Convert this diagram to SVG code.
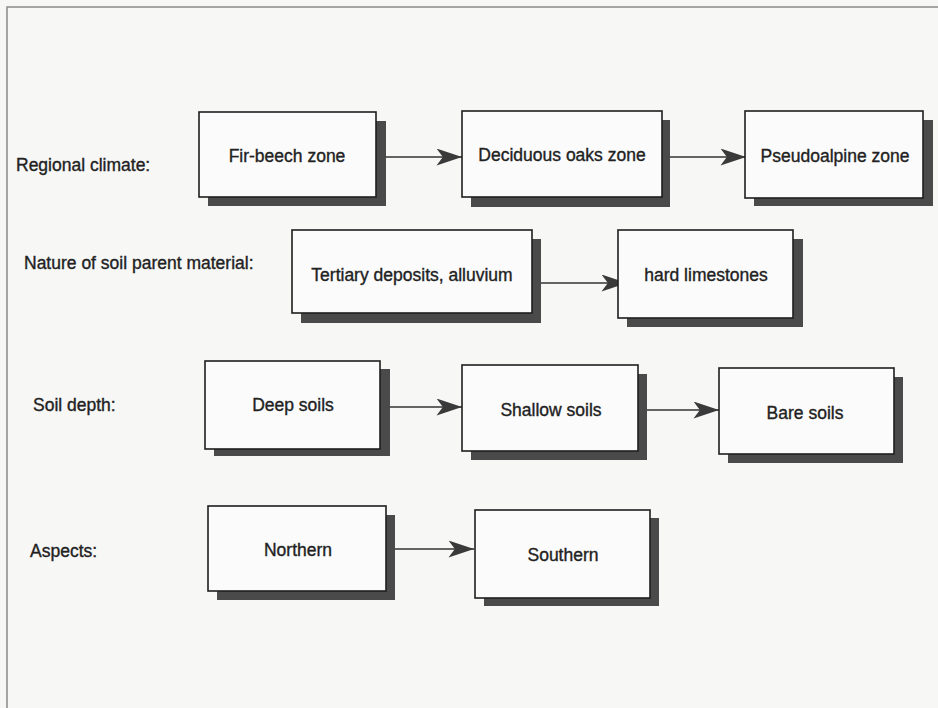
<svg xmlns="http://www.w3.org/2000/svg" width="938" height="708" viewBox="0 0 938 708">
<style>
.bg{fill:#f7f7f6}
.frame{stroke:#8a8a8a;stroke-width:1.5;fill:none}
.sh{fill:#4a4a4a}
.box{fill:#fbfbfb;stroke:#1e1e1e;stroke-width:1.6}
.t,.lbl{font-family:"Liberation Sans",Arial,sans-serif;font-size:17.5px;fill:#222;stroke:#222;stroke-width:0.35;dominant-baseline:central}
.t{text-anchor:middle}
.c{stroke:#333;stroke-width:1.3;fill:none;marker-end:url(#ah)}
</style>
<defs>
<marker id="ah" markerUnits="userSpaceOnUse" markerWidth="26" markerHeight="17" viewBox="0 0 24 16" refX="24" refY="8" orient="auto">
<path d="M0,0 L24,8 L0,16 L6,8 Z" fill="#3a3a3a"/>
</marker>
</defs>
<rect class="bg" x="0" y="0" width="938" height="708"/>
<path class="frame" d="M7,708 L7,7 L938,7"/>

<g id="labels">
<text class="lbl" x="16" y="165">Regional climate:</text>
<text class="lbl" x="24" y="263">Nature of soil parent material:</text>
<text class="lbl" x="33" y="405">Soil depth:</text>
<text class="lbl" x="30" y="551">Aspects:</text>
</g>

<g id="connectors">
<line class="c" x1="386" y1="157" x2="462" y2="157"/>
<line class="c" x1="670" y1="157" x2="746" y2="157"/>
<line class="c" x1="541" y1="283" x2="627" y2="283"/>
<line class="c" x1="390" y1="407" x2="462" y2="407"/>
<line class="c" x1="647" y1="410" x2="719" y2="410"/>
<line class="c" x1="395" y1="549" x2="474" y2="549"/>
</g>

<g id="fir-beech">
<rect class="sh" x="208" y="121" width="178" height="85"/>
<rect class="box" x="199" y="112" width="177" height="85"/>
<text class="t" x="287" y="156">Fir-beech zone</text>
</g>
<g id="deciduous-oaks">
<rect class="sh" x="471" y="120" width="199" height="87"/>
<rect class="box" x="462" y="111" width="200" height="86"/>
<text class="t" x="562" y="155">Deciduous oaks zone</text>
</g>
<g id="pseudoalpine">
<rect class="sh" x="754" y="120" width="179" height="86"/>
<rect class="box" x="745" y="111" width="178" height="87"/>
<text class="t" x="835" y="156">Pseudoalpine zone</text>
</g>
<g id="tertiary">
<rect class="sh" x="301" y="239" width="240" height="84"/>
<rect class="box" x="292" y="230" width="240" height="83"/>
<text class="t" x="412" y="275">Tertiary deposits, alluvium</text>
</g>
<g id="hard-limestones">
<rect class="sh" x="627" y="239" width="176" height="88"/>
<rect class="box" x="618" y="230" width="175" height="88"/>
<text class="t" x="706" y="275">hard limestones</text>
</g>
<g id="deep-soils">
<rect class="sh" x="214" y="369" width="176" height="87"/>
<rect class="box" x="205" y="361" width="175" height="88"/>
<text class="t" x="293" y="405">Deep soils</text>
</g>
<g id="shallow-soils">
<rect class="sh" x="471" y="374" width="176" height="86"/>
<rect class="box" x="462" y="365" width="176" height="86"/>
<text class="t" x="551" y="410">Shallow soils</text>
</g>
<g id="bare-soils">
<rect class="sh" x="728" y="377" width="175" height="86"/>
<rect class="box" x="719" y="368" width="175" height="86"/>
<text class="t" x="805" y="413">Bare soils</text>
</g>
<g id="northern">
<rect class="sh" x="217" y="515" width="178" height="85"/>
<rect class="box" x="208" y="506" width="178" height="85"/>
<text class="t" x="298" y="550">Northern</text>
</g>
<g id="southern">
<rect class="sh" x="484" y="518" width="175" height="88"/>
<rect class="box" x="475" y="510" width="175" height="88"/>
<text class="t" x="563" y="555">Southern</text>
</g>
</svg>
